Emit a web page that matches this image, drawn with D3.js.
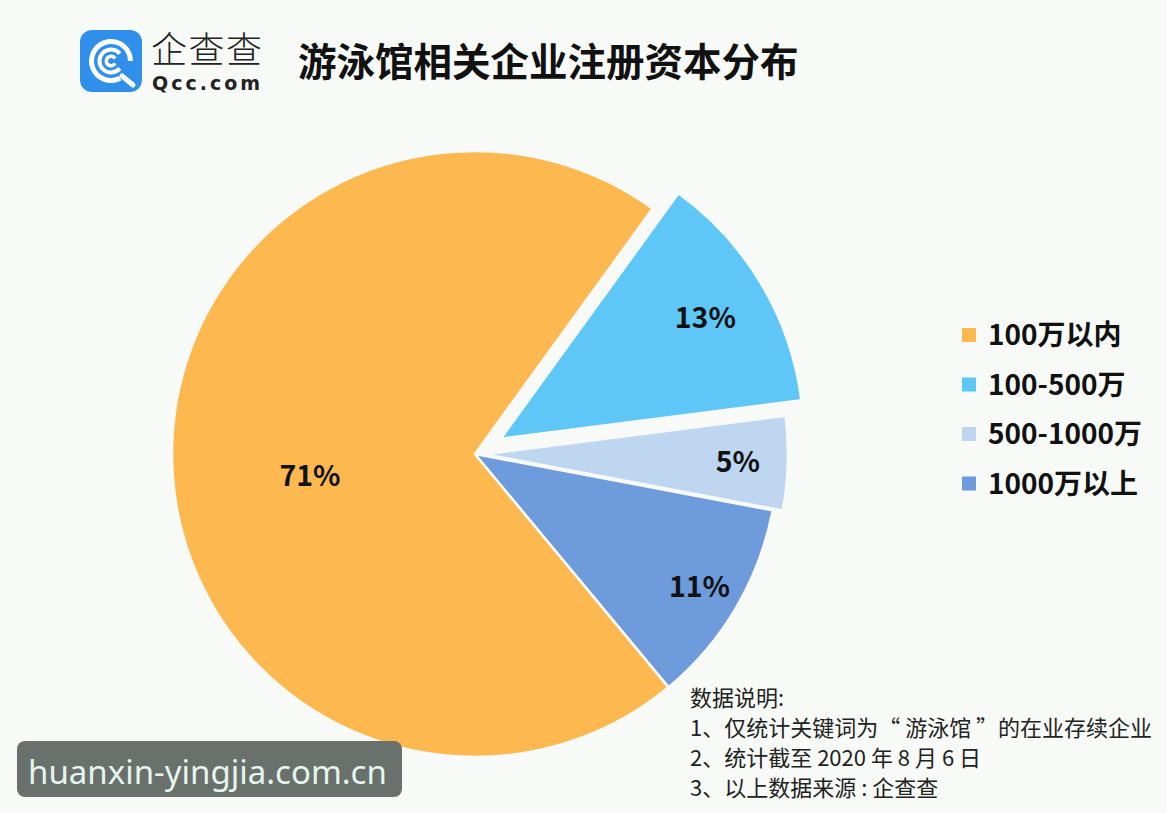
<!DOCTYPE html>
<html>
<head>
<meta charset="utf-8">
<script src="https://cdn.jsdelivr.net/npm/d3@7"></script>
<style>
  html, body { margin: 0; padding: 0; background: #f8faf8; }
  svg { display: block; }
</style>
</head>
<body>
<div id="chart"></div>
<script>
// chart data
const categories = ["100万以内", "100-500万", "500-1000万", "1000万以上"];
const shares = [71, 13, 5, 11];
const colors = ["#fdb950", "#5ec7f7", "#bed6f0", "#6e9bdc"];
const title = "游泳馆相关企业注册资本分布";
const notes = [
  "数据说明:",
  "1、仅统计关键词为“ 游泳馆 ”的在业存续企业",
  "2、统计截至 2020 年 8 月 6 日",
  "3、以上数据来源 : 企查查"
];

const width = 1167, height = 813;
const cx = 475, cy = 454, R = 303;
const font = "'Noto Sans CJK SC', 'Noto Sans', sans-serif";

// how far each slice is pulled out of the pie
const explode = { "100-500万": 30, "500-1000万": 10 };

const svg = d3.select("#chart").append("svg")
    .attr("width", width)
    .attr("height", height);

svg.append("rect")
    .attr("width", width)
    .attr("height", height)
    .attr("fill", "#f8faf8");

// ---- logo ----
const logo = svg.append("g").attr("transform", "translate(80,30)");
logo.append("rect")
    .attr("width", 62).attr("height", 62)
    .attr("rx", 12)
    .attr("fill", "#2f8feb");

const ic = logo.append("g").attr("transform", "translate(31,31)");
const deg = Math.PI / 180;
ic.append("path")
    .attr("d", d3.arc()({ innerRadius: 17, outerRadius: 22, startAngle: 152 * deg, endAngle: 450 * deg }))
    .attr("fill", "#fff");
ic.append("path")
    .attr("d", d3.arc()({ innerRadius: 9.5, outerRadius: 13.5, startAngle: 130 * deg, endAngle: 410 * deg }))
    .attr("fill", "#fff");
ic.append("path")
    .attr("d", d3.arc()({ innerRadius: 3, outerRadius: 6.5, startAngle: 120 * deg, endAngle: 420 * deg }))
    .attr("fill", "#fff");
ic.append("line")
    .attr("x1", 11).attr("y1", 15)
    .attr("x2", 22).attr("y2", 24)
    .attr("stroke", "#fff")
    .attr("stroke-width", 5)
    .attr("stroke-linecap", "round");

svg.append("text")
    .attr("x", 151).attr("y", 63)
    .attr("font-family", font)
    .attr("font-size", 36)
    .attr("font-weight", 300)
    .attr("fill", "#222")
    .attr("letter-spacing", 1.5)
    .text("企查查");

svg.append("text")
    .attr("x", 152).attr("y", 90)
    .attr("font-family", "'DejaVu Sans', sans-serif")
    .attr("font-size", 19)
    .attr("font-weight", 700)
    .attr("fill", "#222")
    .attr("letter-spacing", 3)
    .text("Qcc.com");

// ---- title ----
svg.append("text")
    .attr("x", 298).attr("y", 76)
    .attr("font-family", font)
    .attr("font-size", 38.5)
    .attr("font-weight", 700)
    .attr("fill", "#111")
    .text(title);

// ---- pie ----
const data = categories.map((c, i) => ({ name: c, value: shares[i], color: colors[i] }));

const start = 140.3 * deg;
const pie = d3.pie()
    .sort(null)
    .value(d => d.value)
    .startAngle(start)
    .endAngle(start + 2 * Math.PI);

const arc = d3.arc().innerRadius(0).outerRadius(R);

const arcs = pie(data);

const slices = svg.append("g")
    .attr("transform", `translate(${cx},${cy})`);

function shift(d) {
    const off = explode[d.data.name] || 0;
    const a = (d.startAngle + d.endAngle) / 2;
    return [Math.sin(a) * off, -Math.cos(a) * off];
}

slices.selectAll("path")
    .data(arcs)
    .enter()
    .append("path")
    .attr("transform", d => `translate(${shift(d)})`)
    .attr("d", arc)
    .attr("fill", d => d.data.color)
    .attr("stroke", "#f8faf8")
    .attr("stroke-width", 2.5)
    .attr("stroke-linejoin", "round");

slices.selectAll("text")
    .data(arcs)
    .enter()
    .append("text")
    .attr("transform", d => {
        const off = explode[d.data.name] || 0;
        const big = d.data.value > 50;
        const k = big ? 0.545 : 0.86 - off * 0.0025;
        const lr = d3.arc().innerRadius(R * k).outerRadius(R * k);
        const c = lr.centroid(d);
        const s = shift(d);
        // big slice label sits a little below its bisector
        const dyBig = big ? R * 0.055 : 0;
        return `translate(${c[0] + s[0]},${c[1] + s[1] + dyBig})`;
    })
    .attr("text-anchor", "middle")
    .attr("dy", "0.36em")
    .attr("font-family", font)
    .attr("font-size", 28.5)
    .attr("font-weight", 700)
    .attr("fill", "#111")
    .text(d => d.data.value + "%");

// ---- legend ----
const legend = svg.append("g")
    .attr("transform", "translate(962,335)");

const item = legend.selectAll("g")
    .data(data)
    .enter()
    .append("g")
    .attr("transform", (d, i) => `translate(0,${i * 49.5})`);

item.append("rect")
    .attr("x", 0).attr("y", -7)
    .attr("width", 14).attr("height", 14)
    .attr("fill", d => d.color);

item.append("text")
    .attr("x", 26)
    .attr("dy", "0.36em")
    .attr("font-family", font)
    .attr("font-size", 28)
    .attr("font-weight", 700)
    .attr("fill", "#111")
    .text(d => d.name);

// ---- notes ----
svg.append("g")
    .selectAll("text")
    .data(notes)
    .enter()
    .append("text")
    .attr("x", 690)
    .attr("y", (d, i) => 706 + i * 30)
    .attr("font-family", font)
    .attr("font-size", 22)
    .attr("fill", "#222")
    .text(d => d);

// ---- watermark ----
svg.append("rect")
    .attr("x", 17).attr("y", 741)
    .attr("width", 385).attr("height", 56)
    .attr("rx", 8)
    .attr("fill", "#6a706c");

svg.append("text")
    .attr("x", 28).attr("y", 784)
    .attr("font-family", "'Noto Sans', sans-serif")
    .attr("font-size", 33)
    .attr("fill", "#e6f6ee")
    .text("huanxin-yingjia.com.cn");
</script>
</body>
</html>
